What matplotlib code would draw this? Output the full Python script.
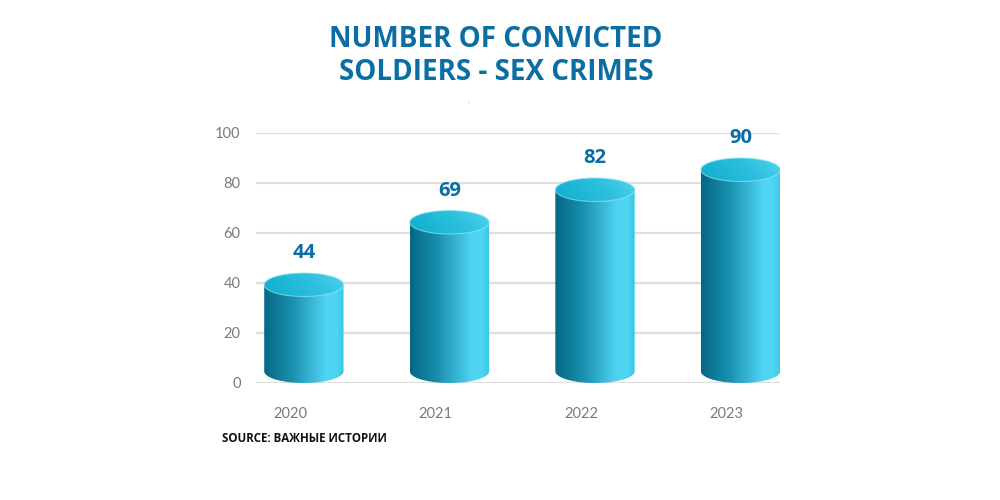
import numpy as np
import matplotlib
matplotlib.use("Agg")
import matplotlib.pyplot as plt
from matplotlib.path import Path
from matplotlib.patches import PathPatch, Ellipse
from matplotlib.colors import LinearSegmentedColormap

years = ["2020", "2021", "2022", "2023"]
convicted = [44, 69, 82, 90]
yticks = [0, 20, 40, 60, 80, 100]

title = "NUMBER OF CONVICTED\nSOLDIERS - SEX CRIMES"
source = "SOURCE: ВАЖНЫЕ ИСТОРИИ"

blue_text = "#0a6ea3"
grey_text = "#7a7a7a"

body_cmap = LinearSegmentedColormap.from_list(
    "body", [(0.0, "#046884"), (0.35, "#1a8fae"), (0.78, "#50d5f2"),
             (0.9, "#4fd6f3"), (1.0, "#38c6e6")])
top_cmap = LinearSegmentedColormap.from_list(
    "top", [(0.0, "#0fadce"), (0.6, "#2ec0de"), (1.0, "#4fd3ee")])

fig = plt.figure(figsize=(10, 5), dpi=100)
ax = fig.add_axes([0.256, 0.234, 0.524, 0.5])

x_off = 0.095   # cylinders sit a bit right of the tick labels
w = 0.545       # cylinder width in category units
eh = 9.4        # ellipse height in value units

grad = np.linspace(0, 1, 256).reshape(1, -1)
diag = (np.linspace(0, 1, 64)[None, :] * 0.8 + np.linspace(1, 0, 32)[:, None] * 0.2)

for i, v in enumerate(convicted):
    cx = i + x_off
    top = v - eh / 2
    bot = eh / 2
    # body: rectangle plus lower half of the base ellipse
    t = np.linspace(np.pi, 2 * np.pi, 60)
    pts = [(cx + w / 2 * np.cos(a), bot + eh / 2 * np.sin(a)) for a in t]
    pts += [(cx + w / 2, top), (cx - w / 2, top), pts[0]]
    codes = [Path.MOVETO] + [Path.LINETO] * (len(pts) - 2) + [Path.CLOSEPOLY]
    body = PathPatch(Path(pts, codes), fc="none", ec="none")
    ax.add_patch(body)
    im = ax.imshow(grad, cmap=body_cmap, aspect="auto",
                   extent=(cx - w / 2, cx + w / 2, 0, top), zorder=2)
    im.set_clip_path(body)

    cap = Ellipse((cx, top), w, eh, fc="none", ec="none")
    ax.add_patch(cap)
    im2 = ax.imshow(diag, cmap=top_cmap, aspect="auto",
                    extent=(cx - w / 2, cx + w / 2, top - eh / 2, top + eh / 2), zorder=3)
    im2.set_clip_path(cap)
    rim = Ellipse((cx, top), w, eh, fc="none", ec="#8fe6f7", lw=0.8, alpha=0.7, zorder=4)
    ax.add_patch(rim)

    ax.annotate(str(v), (cx, v), xytext=(0, 7), textcoords="offset points",
                ha="center", va="bottom", fontsize=14.5, fontweight="bold",
                color=blue_text, family="Open Sans")

ax.set_xlim(-0.234, 3.366)
ax.set_ylim(0, 100)
ax.set_xticks(range(len(years)))
ax.set_xticklabels(years)
ax.set_yticks(yticks)
ax.yaxis.grid(True, color="#dedede", lw=1.6, zorder=0)
ax.set_axisbelow(True)
for s in ax.spines.values():
    s.set_visible(False)
ax.tick_params(axis="both", length=0, colors=grey_text, labelsize=10.5)
ax.tick_params(axis="x", pad=17)
ax.tick_params(axis="y", pad=11)
for lab in ax.get_xticklabels() + ax.get_yticklabels():
    lab.set_family("Lato")

fig.text(0.496, 0.888, title, ha="center", va="center", fontsize=20,
         fontweight="bold", color=blue_text, family="Open Sans", linespacing=1.15)
fig.text(0.469, 0.80, ".", ha="center", va="center", fontsize=8, color="#9bd31c")
fig.text(0.222, 0.124, source, ha="left", va="center", fontsize=8.3,
         fontweight="bold", color="#111111", family=["Open Sans", "DejaVu Sans"])

fig.savefig("out.png", dpi=100)
